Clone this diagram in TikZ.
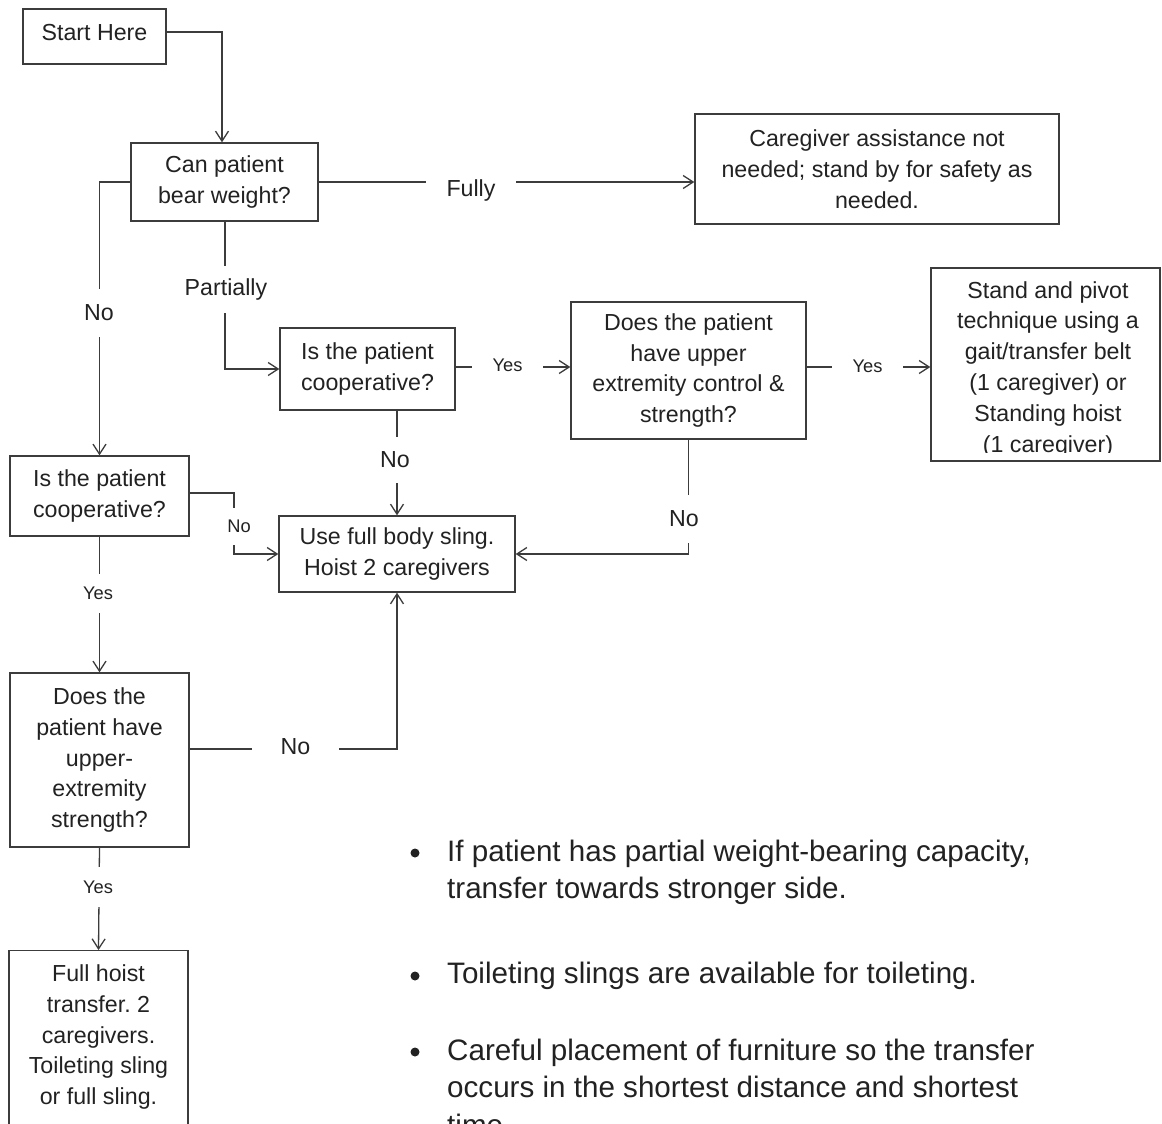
\documentclass[tikz,border=0pt]{standalone}
\usepackage{fontspec}
\setmainfont{Liberation Sans}
\usetikzlibrary{arrows.meta}
\definecolor{linec}{HTML}{3C3C3C}
\definecolor{txtc}{HTML}{222222}
\frenchspacing
\newcommand\bxfont{\fontsize{23.2}{30.8}\selectfont}
\newcommand\smfont{\fontsize{18.3}{22}\selectfont}
\newcommand\blfont{\fontsize{29.6}{37.5}\selectfont}
\tikzset{
  box/.style={draw=linec, line width=1.4pt, inner sep=0pt, align=center, font=\bxfont, text=txtc},
  boxtext/.style={inner sep=0pt, align=center, font=\bxfont, text=txtc},
  lblbig/.style={fill=white, inner sep=0pt, font=\bxfont, text=txtc},
  lblsmall/.style={fill=white, inner sep=0pt, font=\smfont, text=txtc},
  conn/.style={draw=linec, line width=1.3pt},
  arr/.style={conn, -{Straight Barb[length=10pt,width=13pt,line width=1.3pt]}},
  bullettext/.style={inner sep=0pt, align=left, font=\blfont, text=txtc, anchor=north west},
  bulletdot/.style={circle, fill=txtc, inner sep=0pt, minimum size=9pt},
}
\begin{document}
\begin{tikzpicture}[x=1pt,y=-1pt]
\useasboundingbox (0,0) rectangle (1162,1124);
\clip (0,0) rectangle (1162,1124);
\fill[white] (0,0) rectangle (1162,1124);

% boxes
\node[box, minimum width=143pt, minimum height=55pt, text depth=9pt] (start) at (94.5,36.5) {Start Here};
\node[box, minimum width=187pt, minimum height=78pt] (bear) at (224.5,182) {Can patient\\bear weight?};
\node[box, minimum width=364pt, minimum height=110pt] (care) at (877,169) {Caregiver assistance not\\needed; stand by for safety as\\needed.};
\node[box, minimum width=175pt, minimum height=82pt] (coopM) at (367.5,369) {Is the patient\\cooperative?};
\node[box, minimum width=235pt, minimum height=137pt] (upperM) at (688.5,370.5) {Does the patient\\have upper\\extremity control \&\\strength?};
\node[box, minimum width=229pt, minimum height=193pt] (stand) at (1045.5,364.5) {};
\begin{scope}
  \clip (932,269) rectangle (1159,452);
  \node[boxtext] (standT) at (1048,369) {Stand and pivot\\technique using a\\gait/transfer belt\\(1 caregiver) or\\Standing hoist\\(1 caregiver)};
\end{scope}
\node[box, minimum width=179pt, minimum height=80pt] (coopL) at (99.5,496) {Is the patient\\cooperative?};
\node[box, minimum width=236pt, minimum height=76pt] (sling) at (397,554) {Use full body sling.\\Hoist 2 caregivers};
\node[box, minimum width=179pt, minimum height=174pt] (upperL) at (99.5,760) {Does the\\patient have\\upper-\\extremity\\strength?};
\node[box, minimum width=179pt, minimum height=230pt, anchor=north] (hoist) at (98.5,950) {};
\node[boxtext] (hoistT) at (98.5,1037) {Full hoist\\transfer. 2\\caregivers.\\Toileting sling\\or full sling.};

\coordinate (nobend) at (234,510);

% connectors
\draw[arr] ([yshift=4.5pt]start.east) -| ([xshift=-2.5pt]bear.north);
\draw[arr] (bear.east) -- (bear.east -| care.west);
\draw[arr] (bear.west) -| (coopL.north);
\draw[arr] ([xshift=0.5pt]bear.south) |- (coopM.west);
\draw[arr] ([yshift=2pt]coopM.east) -- ([yshift=2pt]coopM.east -| upperM.west);
\draw[arr] ([yshift=3.5pt]upperM.east) -- ([yshift=3.5pt]upperM.east -| stand.west);
\draw[arr] (sling.north |- coopM.south) -- (sling.north);
\draw[arr] (upperM.south) |- (sling.east);
\draw[arr] ([yshift=3pt]coopL.east) -| (nobend) |- (sling.west);
\draw[arr] (coopL.south) -- (upperL.north);
\draw[arr] ([yshift=11pt]upperL.east) -| (sling.south);
\draw[arr] (upperL.south) -- (hoist.north);

% labels
\node[lblbig, minimum width=90pt, minimum height=24pt] (lFully) at (471,190) {Fully};
\node[lblbig, minimum width=30pt, minimum height=48pt] (lNoA) at (99,313) {No};
\node[lblbig, minimum width=92pt, minimum height=47pt] (lPart) at (226,289.5) {Partially};
\node[lblsmall, minimum width=71pt, minimum height=20pt] (lYesA) at (507.5,365.5) {Yes};
\node[lblsmall, minimum width=71pt, minimum height=20pt] (lYesB) at (867.5,366.5) {Yes};
\node[lblbig, minimum width=30pt, minimum height=46pt] (lNoB) at (395,460) {No};
\node[lblbig, minimum width=30pt, minimum height=48pt] (lNoC) at (684,519) {No};
\node[lblsmall, minimum width=26pt, minimum height=37pt] (lNoD) at (239,526) {No};
\node[lblsmall, minimum width=34pt, minimum height=39pt] (lYesC) at (98,593.5) {Yes};
\node[lblbig, minimum width=87pt, minimum height=24pt] (lNoE) at (295.5,747) {No};
\node[lblsmall, minimum width=34pt, minimum height=40pt] (lYesD) at (98,887) {Yes};

% bullet notes
\node[bulletdot] (d1) at (415,853) {};
\node[bullettext] (t1) at (447,839.4) {If patient has partial weight-bearing capacity,\\transfer towards stronger side.};
\node[bulletdot] (d2) at (415,976) {};
\node[bullettext] (t2) at (447,961.4) {Toileting slings are available for toileting.};
\node[bulletdot] (d3) at (415,1052) {};
\node[bullettext] (t3) at (447,1038.4) {Careful placement of furniture so the transfer\\occurs in the shortest distance and shortest\\time.};
\end{tikzpicture}
\end{document}
